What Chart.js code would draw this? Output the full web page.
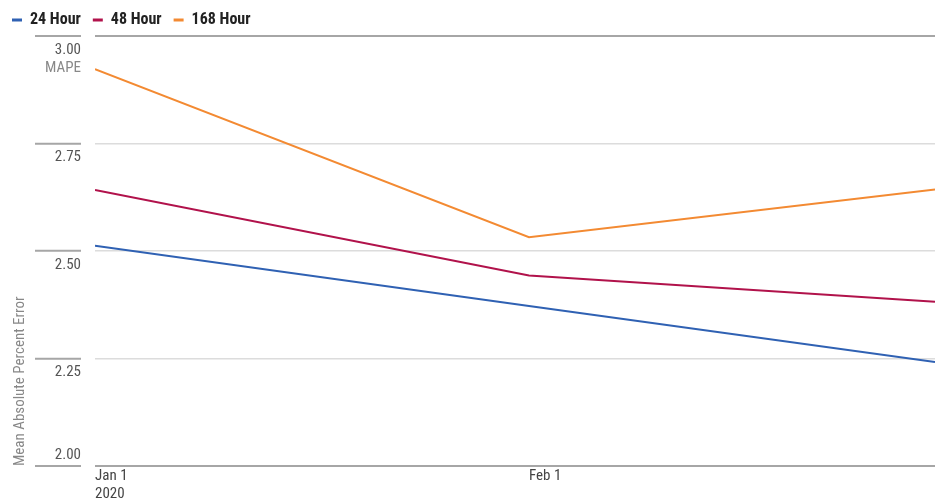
<!DOCTYPE html>
<html>
<head>
<meta charset="utf-8">
<script src="https://cdn.jsdelivr.net/npm/chart.js@4"></script>
<style>
  html, body { margin: 0; padding: 0; background: #fff; }
  #wrap { width: 935px; height: 500px; }
</style>
</head>
<body>
<div id="wrap"><canvas id="chart"></canvas></div>
<script>
// days since Jan 1 2020
const days = [0, 31, 60]
const tickDays = [0, 31]
const tickLabels = [['Jan 1', '2020'], ['Feb 1']]

const hour24 = [2.512, 2.372, 2.242]
const hour48 = [2.642, 2.443, 2.382]
const hour168 = [2.923, 2.532, 2.643]

const FONT = "'Liberation Sans Narrow', 'Roboto Condensed', Roboto, sans-serif"

const toPoints = (vals) => vals.map((v, i) => ({ x: days[i], y: v }))

// extra axis text: unit under the top tick, bottom tick label sits above its line
const axisExtras = {
  id: 'axisExtras',
  beforeInit(chart) {
    // keep the legend band a fixed height
    const fit = chart.legend.fit
    chart.legend.fit = function () {
      fit.call(this)
      this.height = 36
    }
  },
  afterDraw(chart) {
    const ctx = chart.ctx
    const y = chart.scales.y
    ctx.save()
    ctx.font = '15px ' + FONT
    ctx.textAlign = 'right'
    ctx.textBaseline = 'middle'
    ctx.fillStyle = '#888'
    ctx.fillText('MAPE', 81, y.getPixelForValue(y.max) + 32)
    ctx.fillStyle = '#555'
    ctx.fillText(y.min.toFixed(2), 81, y.getPixelForValue(y.min) - 11)
    ctx.restore()
  }
}

const chart = new Chart(document.querySelector('#chart'), {
  type: 'line',
  data: {
    datasets: [
      { label: '24 Hour', data: toPoints(hour24), borderColor: '#2f61b3', backgroundColor: '#2f61b3', borderWidth: 2 },
      { label: '48 Hour', data: toPoints(hour48), borderColor: '#b1124b', backgroundColor: '#b1124b', borderWidth: 2 },
      { label: '168 Hour', data: toPoints(hour168), borderColor: '#f38a32', backgroundColor: '#f38a32', borderWidth: 2 }
    ]
  },
  options: {
    responsive: true,
    maintainAspectRatio: false,
    animation: false,
    layout: { padding: 0 },
    elements: {
      line: { tension: 0 },
      point: { radius: 0, hoverRadius: 0 }
    },
    plugins: {
      tooltip: { enabled: false },
      legend: {
        align: 'start',
        labels: {
          usePointStyle: true,
          pointStyle: 'line',
          pointStyleWidth: 10,
          boxHeight: 10,
          padding: 12,
          color: '#222',
          font: { family: FONT, size: 16, weight: 'bold' },
          generateLabels: (chart) => Chart.defaults.plugins.legend.labels.generateLabels(chart)
            .map(item => Object.assign(item, { lineWidth: 3 }))
        }
      }
    },
    scales: {
      x: {
        type: 'linear',
        min: 0,
        max: 60,
        grid: { display: false, drawTicks: false, tickLength: 0 },
        border: { display: false },
        afterBuildTicks: (scale) => { scale.ticks = tickDays.map(v => ({ value: v })) },
        afterFit: (scale) => { scale.height = 34 },
        ticks: {
          align: 'start',
          padding: 2,
          autoSkip: false,
          maxRotation: 0,
          color: '#444',
          font: { family: FONT, size: 15, lineHeight: 1.15 },
          callback: (v) => tickLabels[tickDays.indexOf(v)]
        }
      },
      y: {
        min: 2,
        max: 3,
        afterFit: (scale) => { scale.width = 95 },
        grid: {
          color: (c) => (c.tick && (c.tick.value === 2 || c.tick.value === 3)) ? '#a6a6a6' : '#dcdcdc',
          lineWidth: (c) => (c.tick && (c.tick.value === 2 || c.tick.value === 3)) ? 2 : 1.5,
          tickColor: '#a6a6a6',
          tickWidth: 2,
          tickLength: 60,
          tickBorderDash: [46, 14]
        },
        border: { display: false },
        ticks: {
          stepSize: 0.25,
          padding: -46,
          labelOffset: 14,
          color: '#555',
          font: { family: FONT, size: 15 },
          // the bottom label is drawn by axisExtras
          callback: (v) => v === 2 ? '' : v.toFixed(2)
        },
        title: {
          display: true,
          text: 'Mean Absolute Percent Error',
          align: 'start',
          color: '#888',
          padding: { top: 11, bottom: 0 },
          font: { family: FONT, size: 15 }
        }
      }
    }
  },
  plugins: [axisExtras]
})
</script>
</body>
</html>
